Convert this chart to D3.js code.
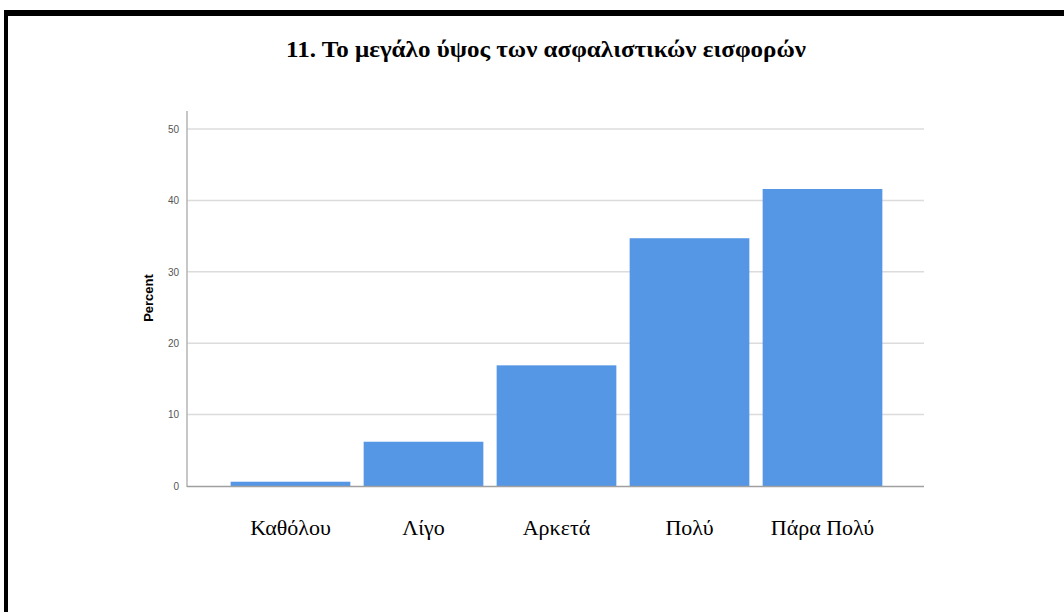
<!DOCTYPE html>
<html><head><meta charset="utf-8">
<script src="https://cdn.jsdelivr.net/npm/d3@7"></script>
<style>html,body{margin:0;padding:0;background:#fff;}</style>
</head><body>
<svg id="chart" width="1064" height="612"></svg>
<script>
const categories = ["Καθόλου", "Λίγο", "Αρκετά", "Πολύ", "Πάρα Πολύ"];
const percents = [0.6, 6.2, 16.9, 34.7, 41.6];
const yTicks = [0, 10, 20, 30, 40, 50];
const titleText = "11. Το μεγάλο ύψος των ασφαλιστικών εισφορών";
const yLabel = "Percent";

const svg = d3.select("#chart");
// frame borders (top and left black bars)
svg.append("rect").attr("x", 4).attr("y", 10).attr("width", 1060).attr("height", 6).attr("fill", "#000");
svg.append("rect").attr("x", 4).attr("y", 10).attr("width", 4).attr("height", 602).attr("fill", "#000");

svg.append("text").attr("x", 546).attr("y", 57).attr("text-anchor", "middle")
  .attr("font-family", "Liberation Serif, Times New Roman, serif").attr("font-weight", "bold")
  .attr("font-size", 23).attr("textLength", 520).attr("lengthAdjust", "spacingAndGlyphs")
  .attr("fill", "#000").text(titleText);

const x0 = 187, x1 = 924, yTop = 111;
const y = d3.scaleLinear().domain([0, 50]).range([486, 129]);
const x = d3.scaleBand().domain(categories).range([224, 889]).paddingInner(0.1).paddingOuter(0.05);

const g = svg.append("g");
// gridlines
g.selectAll(".grid").data(yTicks.filter(d => d > 0)).enter().append("line")
  .attr("x1", x0).attr("x2", x1).attr("y1", d => y(d)).attr("y2", d => y(d))
  .attr("stroke", "#dcdcdc").attr("stroke-width", 1.5);

// y axis
const yAxis = d3.axisLeft(y).tickValues(yTicks).tickSize(0).tickPadding(8);
const ya = g.append("g").attr("transform", `translate(${x0},0)`).call(yAxis);
ya.select(".domain").remove();
ya.selectAll("text").attr("font-family", "Liberation Sans, Arial, sans-serif").attr("font-size", 10).attr("fill", "#555");
g.append("line").attr("x1", x0).attr("x2", x0).attr("y1", yTop).attr("y2", y(0) + 1)
  .attr("stroke", "#b5b5b5").attr("stroke-width", 1.5);

// bars
g.selectAll(".bar").data(categories).enter().append("rect")
  .attr("x", d => x(d)).attr("width", x.bandwidth())
  .attr("y", (d, i) => y(percents[i])).attr("height", (d, i) => y(0) - y(percents[i]))
  .attr("fill", "#5596e5");

// x baseline
g.append("line").attr("x1", x0).attr("x2", x1).attr("y1", y(0) + 0.5).attr("y2", y(0) + 0.5)
  .attr("stroke", "#a0a0a0").attr("stroke-width", 1.5);

// x axis labels
const xAxis = d3.axisBottom(x).tickSize(0).tickPadding(33);
const xa = g.append("g").attr("transform", `translate(0,${y(0)})`).call(xAxis);
xa.select(".domain").remove();
xa.selectAll("text").attr("font-family", "Liberation Serif, Times New Roman, serif")
  .attr("font-size", 22).attr("fill", "#000");

// y label
svg.append("text").attr("transform", `translate(153,298) rotate(-90)`).attr("text-anchor", "middle")
  .attr("font-family", "Liberation Sans, Arial, sans-serif").attr("font-weight", "bold")
  .attr("font-size", 13).attr("fill", "#000").text(yLabel);
</script>
</body></html>
